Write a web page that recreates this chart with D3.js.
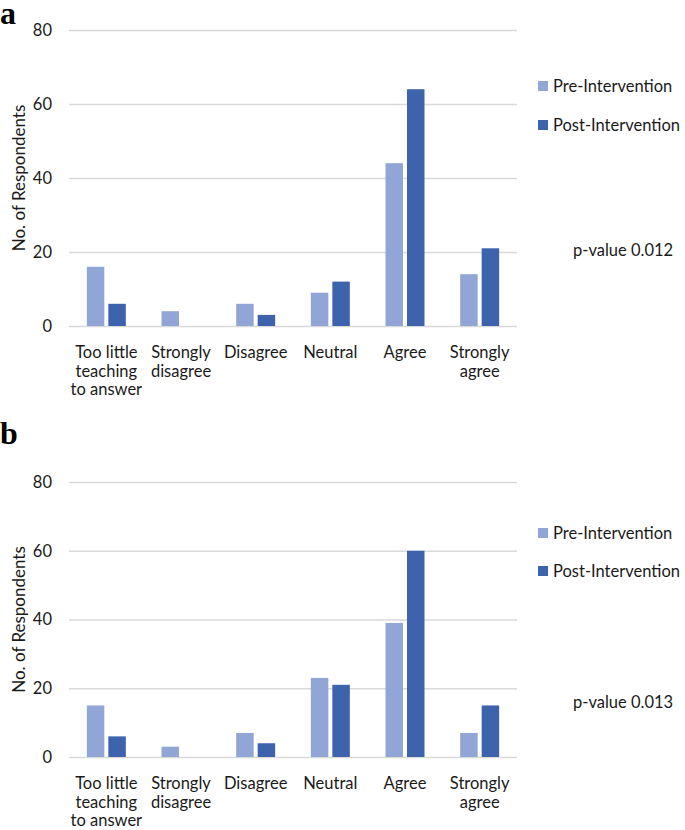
<!DOCTYPE html>
<html>
<head>
<meta charset="utf-8">
<script src="https://cdn.jsdelivr.net/npm/d3@7"></script>
<style>
  html, body { margin: 0; padding: 0; background: #ffffff; }
  svg { display: block; }
</style>
</head>
<body>
<svg id="chart" width="685" height="830"></svg>
<script>
// ---- data ----
const categories = ["Too little\nteaching\nto answer", "Strongly\ndisagree", "Disagree", "Neutral", "Agree", "Strongly\nagree"];
const seriesNames = ["Pre-Intervention", "Post-Intervention"];
const preA = [16, 4, 6, 9, 44, 14];
const postA = [6, 0, 3, 12, 64, 21];
const preB = [15, 3, 7, 23, 39, 7];
const postB = [6, 0, 4, 21, 60, 15];
const yTicks = [0, 20, 40, 60, 80];
const panelLetters = ["a", "b"];
const pValues = ["p-value 0.012", "p-value 0.013"];
const yTitle = "No. of Respondents";

// ---- styles ----
const colors = ["#91A6D6", "#3D63AD"];
const FONT = "Lato, 'Open Sans', sans-serif";
const FS = 16.5;
const textColor = "#1a1a1a";

const svg = d3.select("#chart");

function drawPanel(cfg) {
  const g = svg.append("g");
  const x0 = d3.scaleBand().domain(categories).range([cfg.left, cfg.right]).padding(0);
  const bw = x0.bandwidth();
  const x1 = d3.scaleBand().domain(seriesNames).range([0, bw]).paddingInner(0.186).paddingOuter(0.83);
  const y = d3.scaleLinear().domain([0, 80]).range([cfg.bottom, cfg.top]);

  // gridlines + tick labels
  const yAxis = d3.axisLeft(y).tickValues(yTicks).tickSize(-(cfg.right - cfg.left)).tickPadding(17);
  const ya = g.append("g").attr("transform", `translate(${cfg.left},0)`).call(yAxis);
  ya.select(".domain").remove();
  ya.selectAll(".tick line").attr("stroke", "#d9d9d9").attr("stroke-width", 1.5);
  ya.selectAll(".tick text").attr("font-family", FONT).attr("font-size", FS).attr("fill", textColor);

  // bars
  const rows = categories.map((c, i) => ({ cat: c, vals: [cfg.pre[i], cfg.post[i]] }));
  const cg = g.selectAll(".cat").data(rows).enter().append("g")
    .attr("transform", d => `translate(${x0(d.cat)},0)`);
  cg.selectAll("rect").data(d => d.vals.map((v, k) => ({ s: seriesNames[k], v, k })))
    .enter().append("rect")
    .attr("x", d => x1(d.s))
    .attr("width", x1.bandwidth())
    .attr("y", d => y(d.v))
    .attr("height", d => y(0) - y(d.v))
    .attr("fill", d => colors[d.k]);

  // x axis labels
  const xAxis = d3.axisBottom(x0).tickSize(0).tickFormat("");
  const xa = g.append("g").attr("transform", `translate(0,${cfg.bottom})`).call(xAxis);
  xa.select(".domain").remove();
  xa.selectAll(".tick").each(function (d) {
    const lines = d.split("\n");
    const t = d3.select(this).append("text")
      .attr("text-anchor", "middle")
      .attr("font-family", FONT).attr("font-size", FS).attr("fill", textColor);
    lines.forEach((ln, i) => {
      t.append("tspan").attr("x", 0).attr("y", 32 + i * 18.5).text(ln);
    });
  });

  // y title
  g.append("text")
    .attr("transform", `translate(${cfg.titleX},${(cfg.top + cfg.bottom) / 2}) rotate(-90)`)
    .attr("text-anchor", "middle")
    .attr("font-family", FONT).attr("font-size", 17).attr("fill", textColor)
    .text(yTitle);

  // panel letter
  g.append("text")
    .attr("x", 0).attr("y", cfg.letterY)
    .attr("font-family", "'Liberation Serif', 'DejaVu Serif', serif")
    .attr("font-weight", "bold").attr("font-size", 32).attr("fill", "#000")
    .text(cfg.letter);

  // legend
  seriesNames.forEach((s, k) => {
    const cy = cfg.legendY[k];
    g.append("rect").attr("x", 538).attr("y", cy - 5).attr("width", 10).attr("height", 10).attr("fill", colors[k]);
    g.append("text").attr("x", 553).attr("y", cy + 6)
      .attr("font-family", FONT).attr("font-size", FS).attr("fill", textColor).text(s);
  });

  // p-value
  g.append("text").attr("x", 573).attr("y", cfg.pY)
    .attr("font-family", FONT).attr("font-size", FS).attr("fill", textColor).text(cfg.p);
}

drawPanel({ pre: preA, post: postA, left: 69, right: 517, top: 30, bottom: 326, titleX: 25,
  letter: panelLetters[0], letterY: 24, legendY: [86, 125], p: pValues[0], pY: 256 });
drawPanel({ pre: preB, post: postB, left: 69, right: 517, top: 482, bottom: 757, titleX: 25,
  letter: panelLetters[1], letterY: 444, legendY: [533, 571], p: pValues[1], pY: 708 });
</script>
</body>
</html>
